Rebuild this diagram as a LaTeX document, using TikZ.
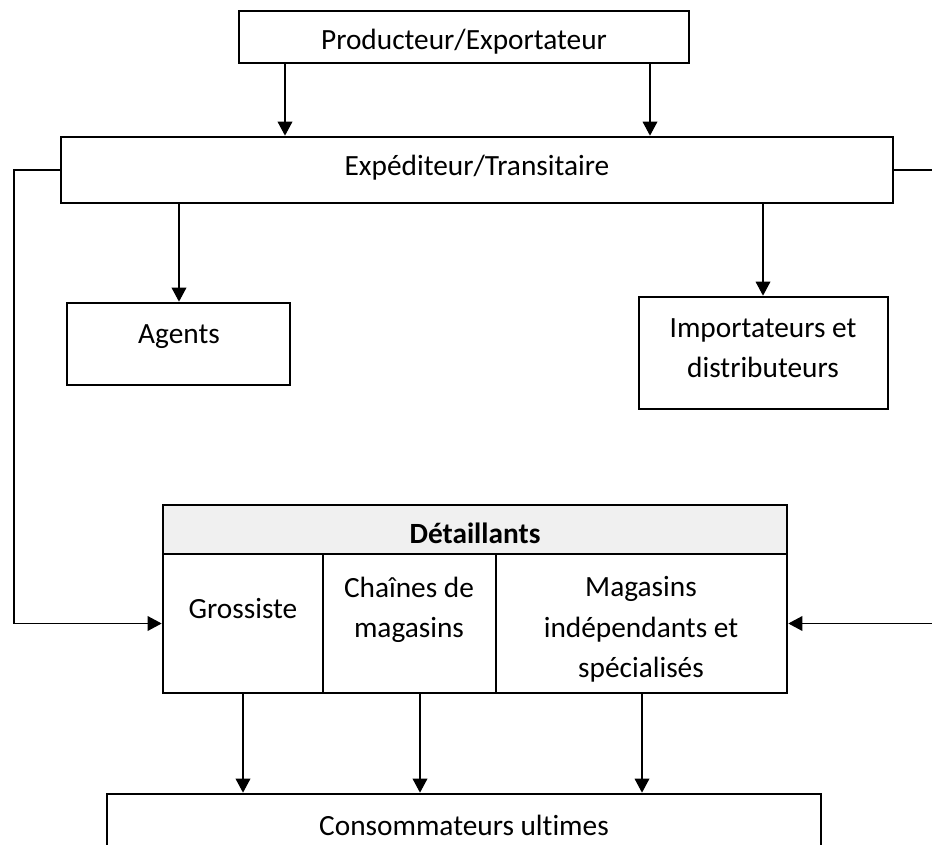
\documentclass[tikz,border=0pt]{standalone}
\usepackage{fontspec}
\setmainfont{Carlito}[Ligatures=NoCommon]
\usetikzlibrary{fit,arrows.meta}
\begin{document}
\begin{tikzpicture}[x=0.75pt,y=-0.75pt,
  box/.style={draw=black,line width=2pt,inner sep=0pt},
  hdr/.style={box,fill=gray!12},
  txt/.style={anchor=base,inner sep=0pt,font=\fontsize{22}{26}\selectfont},
  arr/.style={draw=black,line width=1pt,-{Triangle[length=10.5pt,width=11pt]}}]
\clip (0,0) rectangle (932,845);
\fill[white] (0,0) rectangle (932,845);
% boxes
\node[box,fit={(239,11)(689,63)}] (prod) {};
\node[box,fit={(61,137)(893,203)}] (exp) {};
\node[box,fit={(67,303)(290,385)}] (agents) {};
\node[box,fit={(639,297)(888,409)}] (imp) {};
\node[hdr,fit={(163,505)(787,554)}] (det) {};
\node[box,fit={(163,554)(323,693)}] (gross) {};
\node[box,fit={(323,554)(496,693)}] (chain) {};
\node[box,fit={(496,554)(787,693)}] (mag) {};
\node[box,fit={(107,794)(821,870)}] (cons) {};
% texts
\node[txt] (tprod) at (464,50) {Producteur/Exportateur};
\node[txt] (texp) at (477,176) {Expéditeur/Transitaire};
\node[txt] (tag) at (179,343) {Agents};
\node[txt] (timp1) at (763,337) {Importateurs et};
\node[txt] (timp2) at (763,377) {distributeurs};
\node[txt,font=\fontsize{22}{26}\selectfont\bfseries] (tdet) at (475,543) {Détaillants};
\node[txt] (tgross) at (243,618) {Grossiste};
\node[txt] (tch1) at (409,597) {Chaînes de};
\node[txt] (tch2) at (409,637) {magasins};
\node[txt] (tmag1) at (641,596) {Magasins};
\node[txt] (tmag2) at (641,637) {indépendants et};
\node[txt] (tmag3) at (641,677) {spécialisés};
\node[txt] (tcons) at (464,835) {Consommateurs ultimes};
% connectors
\draw[arr] (285,0 |- prod.south) -- (285,0 |- exp.north);
\draw[arr] (650,0 |- prod.south) -- (650,0 |- exp.north);
\draw[arr] (179,0 |- exp.south) -- (179,0 |- agents.north);
\draw[arr] (763,0 |- exp.south) -- (763,0 |- imp.north);
\draw[arr] (exp.west) -- (14,0 |- exp.west) -- (14,0 |- gross.west) -- (gross.west);
\draw[arr] (exp.east) -- (960,0 |- exp.east) -- (960,0 |- mag.east) -- (mag.east);
\draw[arr] (243,0 |- gross.south) -- (243,0 |- cons.north);
\draw[arr] (420,0 |- chain.south) -- (420,0 |- cons.north);
\draw[arr] (642,0 |- mag.south) -- (642,0 |- cons.north);
\end{tikzpicture}
\end{document}
